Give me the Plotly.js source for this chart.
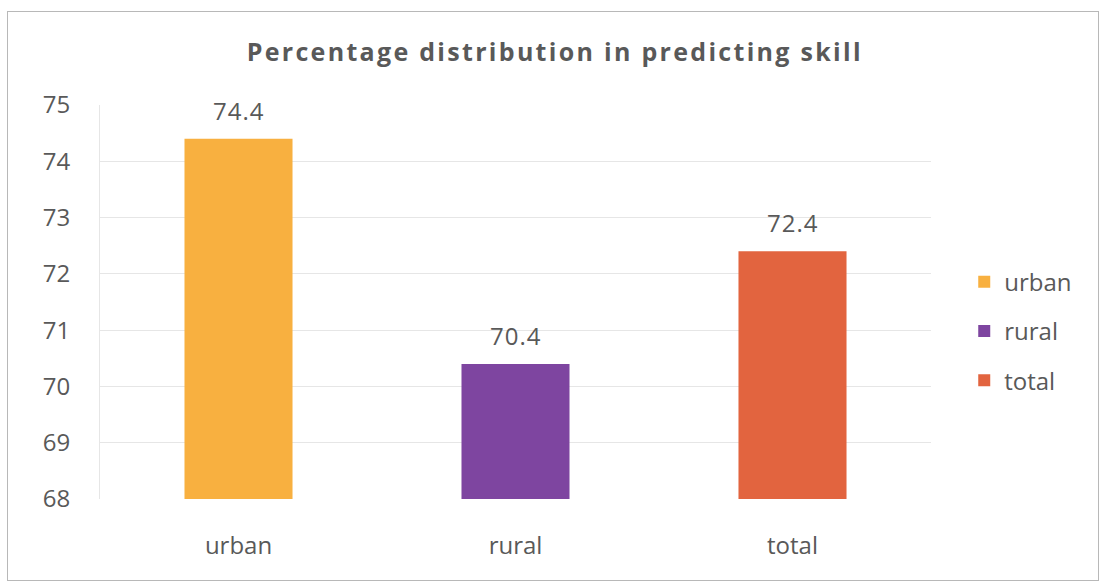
<!DOCTYPE html>
<html>
<head>
<meta charset="utf-8">
<script src="https://cdn.plot.ly/plotly-3.0.1.min.js"></script>
<style>
html,body{margin:0;padding:0;background:#fff;}
#wrap{position:relative;width:1103px;height:583px;}
#chart{width:1103px;height:583px;}
#frame{position:absolute;left:7px;top:11px;width:1090px;height:568px;border:1px solid #b8b8b8;pointer-events:none;}
#chart .gtitle{letter-spacing:2.3px;}
#chart .annotation-text{letter-spacing:1px;}
</style>
</head>
<body>
<div id="wrap"><div id="chart"></div><div id="frame"></div></div>
<script>
var categories = ["urban", "rural", "total"];
var values = [74.4, 70.4, 72.4];
var colors = ["#F8B040", "#7E45A0", "#E2643F"];
var yTicks = [68, 69, 70, 71, 72, 73, 74, 75];

var fontFam = "Open Sans, Lato, sans-serif";
var txtColor = "#595959";

var traces = categories.map(function(c, i){
  return {
    type: "bar",
    x: [c],
    y: [values[i]],
    name: c,
    legendgroup: c,
    marker: {color: colors[i]},
    width: 0.39,
    cliponaxis: false,
    hoverinfo: "x+y"
  };
});

var annotations = categories.map(function(c, i){
  return {
    x: c, y: values[i], xref: "x", yref: "y",
    text: values[i].toFixed(1),
    showarrow: false,
    yanchor: "bottom", yshift: 10,
    font: {family: fontFam, size: 24, color: txtColor}
  };
});

var layout = {
  width: 1103, height: 583,
  margin: {l: 100, r: 172, t: 105, b: 84},
  paper_bgcolor: "#fff", plot_bgcolor: "#fff",
  barmode: "overlay",
  showlegend: true,
  annotations: annotations,
  title: {
    text: "<b>Percentage distribution in predicting skill</b>",
    font: {family: fontFam, size: 25, color: txtColor},
    xref: "container", x: 0.503, xanchor: "center",
    yref: "container", y: 1 - 52/583, yanchor: "middle"
  },
  xaxis: {
    type: "category",
    categoryarray: categories,
    showgrid: false, zeroline: false, showline: false,
    ticks: "", ticklabelstandoff: 30,
    tickfont: {family: fontFam, size: 24, color: txtColor}
  },
  yaxis: {
    range: [68, 75],
    tickvals: yTicks,
    ticktext: yTicks.map(String),
    showgrid: true, gridcolor: "#e6e6e6", gridwidth: 1,
    zeroline: false,
    showline: true, linecolor: "#e6e6e6",
    ticks: "", ticklabelstandoff: 24,
    tickfont: {family: fontFam, size: 24, color: txtColor}
  },
  legend: {
    x: 1.04, xanchor: "left", y: 0.426, yanchor: "middle",
    tracegroupgap: 15,
    font: {family: fontFam, size: 24, color: txtColor},
    itemwidth: 30
  }
};

Plotly.newPlot("chart", traces, layout, {displayModeBar: false, staticPlot: true});
</script>
</body>
</html>
